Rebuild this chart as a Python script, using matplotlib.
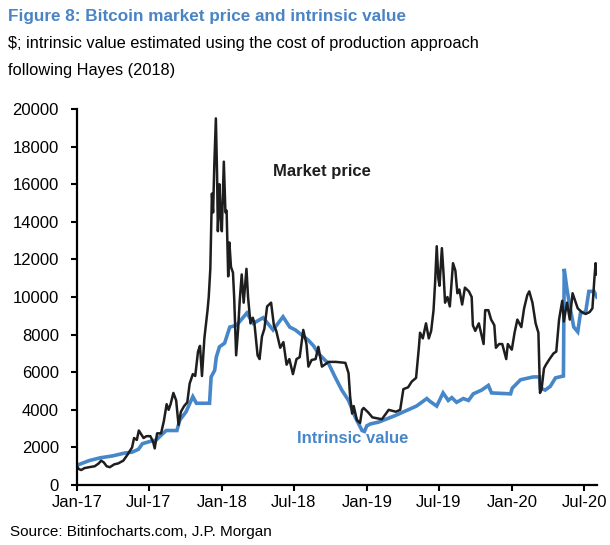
import matplotlib
matplotlib.use('Agg')
import matplotlib.pyplot as plt
import matplotlib.dates as mdates
import pandas as pd

TITLE_BLUE = '#4a84c4'
LINE_BLUE = '#4787c9'

# market price
price_dates = [
    '2017-01-01', '2017-01-06', '2017-01-12', '2017-01-20', '2017-02-01', '2017-02-15', '2017-02-25',
    '2017-03-03', '2017-03-10', '2017-03-17', '2017-03-25', '2017-04-05', '2017-04-15', '2017-04-28',
    '2017-05-08', '2017-05-20', '2017-05-25', '2017-06-01', '2017-06-06', '2017-06-12', '2017-06-18',
    '2017-06-25', '2017-07-05', '2017-07-12', '2017-07-16', '2017-07-22', '2017-08-01', '2017-08-08',
    '2017-08-15', '2017-08-20', '2017-08-25', '2017-09-01', '2017-09-08', '2017-09-14', '2017-09-20',
    '2017-09-28', '2017-10-06', '2017-10-12', '2017-10-20', '2017-10-26', '2017-11-02', '2017-11-07',
    '2017-11-12', '2017-11-18', '2017-11-26', '2017-11-29', '2017-12-03', '2017-12-07', '2017-12-10',
    '2017-12-13', '2017-12-17', '2017-12-20', '2017-12-22', '2017-12-26', '2017-12-29', '2018-01-01',
    '2018-01-06', '2018-01-10', '2018-01-13', '2018-01-17', '2018-01-20', '2018-01-24', '2018-01-29',
    '2018-02-01', '2018-02-06', '2018-02-11', '2018-02-15', '2018-02-20', '2018-02-25', '2018-03-04',
    '2018-03-08', '2018-03-14', '2018-03-20', '2018-03-24', '2018-04-01', '2018-04-06', '2018-04-12',
    '2018-04-18', '2018-04-25', '2018-05-05', '2018-05-12', '2018-05-18', '2018-05-28', '2018-06-05',
    '2018-06-13', '2018-06-20', '2018-06-29', '2018-07-08', '2018-07-16', '2018-07-25', '2018-08-02',
    '2018-08-07', '2018-08-15', '2018-08-25', '2018-09-01', '2018-09-10', '2018-09-27', '2018-10-15',
    '2018-11-08', '2018-11-16', '2018-11-20', '2018-11-25', '2018-11-29', '2018-12-07', '2018-12-15',
    '2018-12-20', '2018-12-24', '2019-01-05', '2019-01-15', '2019-01-27', '2019-02-08', '2019-02-25',
    '2019-03-15', '2019-03-26', '2019-04-03', '2019-04-15', '2019-04-24', '2019-05-05', '2019-05-12',
    '2019-05-15', '2019-05-22', '2019-05-30', '2019-06-06', '2019-06-12', '2019-06-18', '2019-06-22',
    '2019-06-26', '2019-06-30', '2019-07-03', '2019-07-09', '2019-07-13', '2019-07-17', '2019-07-23',
    '2019-07-29', '2019-08-06', '2019-08-12', '2019-08-17', '2019-08-22', '2019-08-29', '2019-09-05',
    '2019-09-15', '2019-09-22', '2019-09-25', '2019-10-01', '2019-10-10', '2019-10-22', '2019-10-26',
    '2019-11-03', '2019-11-10', '2019-11-18', '2019-11-22', '2019-11-30', '2019-12-08', '2019-12-18',
    '2019-12-22', '2020-01-01', '2020-01-08', '2020-01-15', '2020-01-25', '2020-02-01', '2020-02-09',
    '2020-02-14', '2020-02-22', '2020-03-01', '2020-03-08', '2020-03-12', '2020-03-16', '2020-03-22',
    '2020-03-27', '2020-04-05', '2020-04-15', '2020-04-22', '2020-04-29', '2020-05-07', '2020-05-11',
    '2020-05-19', '2020-05-26', '2020-06-02', '2020-06-10', '2020-06-15', '2020-06-25', '2020-07-05',
    '2020-07-15', '2020-07-22', '2020-07-27', '2020-07-30', '2020-08-02',
]
price_values = [
    1000, 850, 800, 900, 950, 1000, 1150,
    1300, 1200, 1000, 950, 1100, 1150, 1300,
    1600, 2000, 2500, 2400, 2900, 2700, 2500,
    2600, 2600, 2300, 1950, 2750, 2750, 3400,
    4300, 4000, 4300, 4900, 4500, 3200, 3900,
    4200, 4400, 5400, 5900, 5800, 7100, 7400,
    5800, 7800, 9300, 10000, 11500, 15500, 14500,
    17000, 19500, 16500, 13500, 16000, 14300, 13500,
    17200, 14500, 14600, 11100, 12900, 11600, 11300,
    10000, 6900, 8300, 9800, 11200, 9700, 11500,
    10000, 8600, 8900, 8600, 6900, 6700, 7900,
    8300, 9500, 9700, 8500, 8200, 7300, 7600,
    6400, 6700, 5900, 6700, 6800, 8250, 7500,
    6300, 6650, 6700, 7350, 6300, 6550, 6550,
    6500, 5950, 4700, 3800, 4200, 3450, 3300,
    4000, 4100, 3850, 3600, 3550, 3500, 4000,
    3900, 4000, 5100, 5200, 5500, 5700, 7300,
    8100, 7800, 8600, 7800, 8200, 9300, 10800,
    12700, 11000, 10600, 12600, 11300, 9700, 10000,
    9500, 11800, 11400, 10200, 10400, 9600, 10500,
    10300, 10000, 8500, 8200, 8600, 7500, 9300,
    9300, 8800, 8500, 7300, 7500, 7500, 6700,
    7500, 7200, 8100, 8800, 8400, 9400, 10100,
    10300, 9700, 8600, 8100, 4900, 5100, 6200,
    6400, 6700, 7000, 7100, 8800, 9800, 8700,
    9700, 8800, 10200, 9700, 9400, 9200, 9100,
    9200, 9400, 11000, 11800, 11200,
]

# intrinsic value (cost of production)
value_dates = [
    '2017-01-01', '2017-02-01', '2017-03-01', '2017-04-01', '2017-05-01', '2017-05-20', '2017-06-05',
    '2017-06-15', '2017-07-01', '2017-07-20', '2017-08-01', '2017-08-14', '2017-09-10', '2017-09-17',
    '2017-10-03', '2017-10-20', '2017-10-29', '2017-12-01', '2017-12-05', '2017-12-14', '2017-12-18',
    '2017-12-26', '2018-01-08', '2018-01-21', '2018-02-07', '2018-03-05', '2018-03-21', '2018-04-15',
    '2018-05-10', '2018-06-04', '2018-06-21', '2018-07-05', '2018-07-20', '2018-08-07', '2018-08-20',
    '2018-09-01', '2018-09-15', '2018-09-27', '2018-10-13', '2018-10-30', '2018-11-16', '2018-12-03',
    '2018-12-20', '2018-12-26', '2019-01-01', '2019-01-10', '2019-01-31', '2019-03-14', '2019-05-06',
    '2019-06-01', '2019-06-09', '2019-06-26', '2019-07-12', '2019-07-25', '2019-08-03', '2019-08-15',
    '2019-09-01', '2019-09-14', '2019-09-26', '2019-10-17', '2019-11-03', '2019-11-11', '2019-12-29',
    '2020-01-02', '2020-01-23', '2020-02-24', '2020-03-11', '2020-03-13', '2020-03-25', '2020-04-07',
    '2020-04-20', '2020-05-10', '2020-05-12', '2020-05-19', '2020-05-28', '2020-06-05', '2020-06-15',
    '2020-06-22', '2020-07-05', '2020-07-13', '2020-07-26', '2020-08-02',
]
value_values = [
    1050, 1300, 1450, 1550, 1700, 1750, 1900,
    2200, 2300, 2400, 2650, 2900, 2900, 3450,
    3900, 4700, 4350, 4350, 5750, 6100, 6800,
    7350, 7550, 8400, 8500, 9150, 8600, 8900,
    8250, 8950, 8400, 8250, 8000, 7700, 7400,
    7000, 6700, 6450, 5750, 5050, 4500, 3600,
    2900, 2850, 3150, 3250, 3350, 3700, 4200,
    4600, 4450, 4200, 4900, 4500, 4650, 4400,
    4600, 4500, 4850, 5050, 5300, 4900, 4850,
    5150, 5600, 5750, 5750, 5150, 5050, 5250,
    5700, 5800, 11500, 10400, 9300, 8400, 8150,
    9150, 9200, 10300, 10300, 10000,
]

price = pd.Series(price_values, index=pd.to_datetime(price_dates))
value = pd.Series(value_values, index=pd.to_datetime(value_dates))

plt.rcParams['font.family'] = ['Liberation Sans', 'DejaVu Sans']

fig = plt.figure(figsize=(6.1, 5.45), dpi=100)
ax = fig.add_axes([0.126, 0.110, 0.853, 0.690])

ax.plot(value.index, value.values, color=LINE_BLUE, lw=2.6, solid_joinstyle='miter')
ax.plot(price.index, price.values, color='#1e1e1e', lw=1.8)

ax.set_ylim(0, 20000)
ax.set_yticks(range(0, 20001, 2000))
ax.set_xlim(pd.Timestamp('2017-01-01'), pd.Timestamp('2020-08-03'))
ax.xaxis.set_major_locator(mdates.MonthLocator(bymonth=[1, 7]))
ax.xaxis.set_major_formatter(mdates.DateFormatter('%b-%y'))

for side in ['top', 'right']:
    ax.spines[side].set_visible(False)
for side in ['left', 'bottom']:
    ax.spines[side].set_linewidth(1.6)
ax.tick_params(axis='both', width=1.5, length=4, labelsize=12, colors='black')
ax.tick_params(axis='y', pad=9)
ax.tick_params(axis='x', pad=3)

# series labels
ax.text(pd.Timestamp('2018-05-10'), 16700, 'Market price', fontsize=12, fontweight='bold',
        color='#1e1e1e', va='center')
ax.text(pd.Timestamp('2018-07-10'), 2450, 'Intrinsic value', fontsize=12, fontweight='bold',
        color=LINE_BLUE, va='center')

# header and source (sized to match the condensed look of the original)
fig.text(0.013, 1 - 21 / 545, 'Figure 8: Bitcoin market price and intrinsic value',
         fontsize=12.3, fontweight='bold', color=TITLE_BLUE, va='baseline')
fig.text(0.013, 1 - 48 / 545, '$; intrinsic value estimated using the cost of production approach',
         fontsize=11.8, color='black', va='baseline')
fig.text(0.013, 1 - 75 / 545, 'following Hayes (2018)',
         fontsize=11.8, color='black', va='baseline')
fig.text(0.016, 1 - 536 / 545, 'Source: Bitinfocharts.com, J.P. Morgan',
         fontsize=11, color='black', va='baseline')

fig.savefig('out.png', dpi=100)
